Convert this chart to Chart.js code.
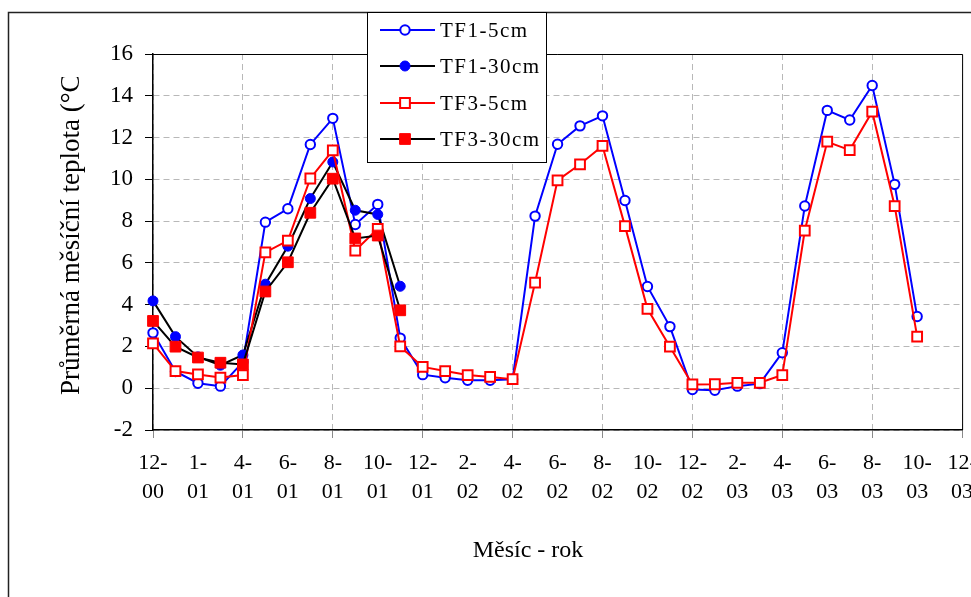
<!DOCTYPE html>
<html>
<head>
<meta charset="utf-8">
<script src="https://cdn.jsdelivr.net/npm/chart.js@4"></script>
<style>
  html, body { margin: 0; padding: 0; background: #fff; }
  canvas { display: block; }
</style>
</head>
<body>
<canvas id="c" width="971" height="597"></canvas>
<script>
// Months from 12-00 to 12-03
const months = ['12-00','1-01','2-01','3-01','4-01','5-01','6-01','7-01','8-01','9-01','10-01','11-01',
  '12-01','1-02','2-02','3-02','4-02','5-02','6-02','7-02','8-02','9-02','10-02','11-02',
  '12-02','1-03','2-03','3-03','4-03','5-03','6-03','7-03','8-03','9-03','10-03','11-03','12-03'];
// Tick labels as printed on the axis (every second month)
const tickLabels = ['12-00','1-01','4-01','6-01','8-01','10-01','12-01','2-02','4-02','6-02',
  '8-02','10-02','12-02','2-03','4-03','6-03','8-03','10-03','12-03'];

const tf1_5cm = [2.65, 0.8, 0.24, 0.1, 1.25, 7.95, 8.59, 11.67, 12.92, 7.84, 8.8, 2.4,
  0.65, 0.5, 0.38, 0.38, 0.43, 8.24, 11.68, 12.56, 13.04, 8.99, 4.87, 2.95,
  -0.06, -0.1, 0.1, 0.22, 1.7, 8.72, 13.3, 12.84, 14.49, 9.76, 3.43];
const tf1_30cm = [4.18, 2.47, 1.5, 1.1, 1.59, 4.98, 6.8, 9.08, 10.83, 8.52, 8.32, 4.88];
const tf3_5cm = [2.15, 0.82, 0.66, 0.51, 0.63, 6.5, 7.07, 10.04, 11.39, 6.59, 7.63, 2.0,
  1.02, 0.82, 0.63, 0.54, 0.43, 5.06, 9.95, 10.72, 11.6, 7.76, 3.8, 1.99,
  0.18, 0.19, 0.26, 0.26, 0.63, 7.55, 11.8, 11.4, 13.24, 8.72, 2.47];
const tf3_30cm = [3.22, 1.99, 1.47, 1.22, 1.14, 4.63, 6.03, 8.4, 10.03, 7.17, 7.31, 3.73];

const yTitle = 'Průměrná měsíční teplota (°C)';
const xTitle = 'Měsíc - rok';

const BLUE = '#0000ff', RED = '#ff0000', BLACK = '#000000';
const SERIF = '"Liberation Serif", "Times New Roman", serif';

const framePlugin = {
  id: 'frame',
  beforeDraw(chart) {
    const ctx = chart.ctx;
    ctx.save();
    ctx.fillStyle = '#fff';
    ctx.fillRect(0, 0, chart.width, chart.height);
    ctx.strokeStyle = '#222';
    ctx.lineWidth = 1.5;
    ctx.beginPath();
    ctx.moveTo(8.5, chart.height + 2);
    ctx.lineTo(8.5, 12.5);
    ctx.lineTo(chart.width + 2, 12.5);
    ctx.stroke();
    ctx.restore();
  },
  afterDatasetsDraw(chart) {
    const ctx = chart.ctx, a = chart.chartArea;
    ctx.save();
    ctx.strokeStyle = '#000';
    ctx.lineWidth = 1;
    ctx.beginPath();
    ctx.moveTo(a.left, a.top + 0.5);
    ctx.lineTo(a.right + 0.5, a.top + 0.5);
    ctx.lineTo(a.right + 0.5, a.bottom);
    ctx.stroke();
    ctx.restore();
  },
  afterDraw(chart) {
    const ctx = chart.ctx;
    ctx.save();
    // Y axis title (clipped at the top like the original)
    ctx.beginPath();
    ctx.rect(0, 77, chart.width, chart.height);
    ctx.clip();
    ctx.fillStyle = '#000';
    ctx.font = '27px ' + SERIF;
    ctx.translate(79, 395);
    ctx.rotate(-Math.PI / 2);
    ctx.textAlign = 'left';
    ctx.textBaseline = 'alphabetic';
    ctx.fillText(yTitle, 0, 0);
    ctx.restore();

    // X axis title
    ctx.save();
    ctx.fillStyle = '#000';
    ctx.font = '24px ' + SERIF;
    ctx.textAlign = 'center';
    ctx.textBaseline = 'alphabetic';
    ctx.fillText(xTitle, 528, 557);
    ctx.restore();

    // Legend
    ctx.save();
    const bx = 367.5, by = 12.5, bw = 179, bh = 150;
    ctx.fillStyle = '#fff';
    ctx.fillRect(bx, by, bw, bh);
    ctx.strokeStyle = '#000';
    ctx.lineWidth = 1;
    ctx.strokeRect(bx, by, bw, bh);
    const rows = [30, 66, 103, 139];
    chart.data.datasets.forEach((ds, i) => {
      const y = rows[i];
      ctx.strokeStyle = ds.borderColor;
      ctx.lineWidth = 2;
      ctx.beginPath();
      ctx.moveTo(380, y);
      ctx.lineTo(435, y);
      ctx.stroke();
      ctx.fillStyle = ds.pointBackgroundColor;
      ctx.strokeStyle = ds.pointBorderColor;
      ctx.lineWidth = ds.pointBorderWidth;
      ctx.beginPath();
      if (ds.pointStyle === 'rect') {
        const s = ds.pointRadius * Math.SQRT1_2;
        ctx.rect(405 - s, y - s, 2 * s, 2 * s);
      } else {
        ctx.arc(405, y, ds.pointRadius, 0, Math.PI * 2);
      }
      ctx.fill();
      ctx.stroke();
      ctx.fillStyle = '#000';
      ctx.font = '21px ' + SERIF;
      if ('letterSpacing' in ctx) ctx.letterSpacing = '1.5px';
      ctx.textAlign = 'left';
      ctx.textBaseline = 'middle';
      ctx.fillText(ds.label, 440, y + 1);
    });
    ctx.restore();
  }
};

new Chart(document.getElementById('c'), {
  type: 'line',
  data: {
    labels: months,
    datasets: [
      { label: 'TF1-5cm', data: tf1_5cm, borderColor: BLUE, borderWidth: 2,
        pointStyle: 'circle', pointRadius: 4.7, pointBorderWidth: 2,
        pointBackgroundColor: '#fff', pointBorderColor: BLUE, order: 4 },
      { label: 'TF1-30cm', data: tf1_30cm, borderColor: BLACK, borderWidth: 2,
        pointStyle: 'circle', pointRadius: 5, pointBorderWidth: 1,
        pointBackgroundColor: BLUE, pointBorderColor: BLUE, order: 3 },
      { label: 'TF3-5cm', data: tf3_5cm, borderColor: RED, borderWidth: 2,
        pointStyle: 'rect', pointRadius: 6.9, pointBorderWidth: 2,
        pointBackgroundColor: '#fff', pointBorderColor: RED, order: 2 },
      { label: 'TF3-30cm', data: tf3_30cm, borderColor: BLACK, borderWidth: 2,
        pointStyle: 'rect', pointRadius: 7.6, pointBorderWidth: 1,
        pointBackgroundColor: RED, pointBorderColor: RED, order: 1 }
    ]
  },
  options: {
    responsive: false,
    animation: false,
    devicePixelRatio: 1,
    layout: { padding: { left: 0, right: 5, top: 54, bottom: 0 } },
    elements: { line: { tension: 0 } },
    plugins: { legend: { display: false }, title: { display: false }, tooltip: { enabled: false } },
    events: [],
    scales: {
      x: {
        type: 'category',
        offset: false,
        grid: {
          color: (c) => (c.index % 2 === 0 ? '#b8b8b8' : 'rgba(0,0,0,0)'),
          lineWidth: 1,
          borderDash: [6, 4],
          tickColor: (c) => (c.index % 2 === 0 ? '#8a8a8a' : 'rgba(0,0,0,0)'),
          tickLength: 8,
          tickBorderDash: []
        },
        border: { display: true, color: '#000', width: 1.5, dash: [6, 4] },
        ticks: {
          autoSkip: false,
          maxRotation: 0,
          minRotation: 0,
          padding: 10.5,
          color: '#000',
          font: { family: SERIF, size: 22, lineHeight: 1.32 },
          callback: (v, i) => {
            if (i % 2 !== 0) return null;
            const t = tickLabels[i / 2];
            const k = t.indexOf('-');
            return [t.slice(0, k + 1), t.slice(k + 1)];
          }
        },
        afterFit: (s) => { s.height = 167; s.paddingLeft = 0; s.paddingRight = 0; }
      },
      y: {
        min: -2,
        max: 16,
        grid: {
          color: '#b8b8b8',
          lineWidth: 1,
          borderDash: [6, 4],
          tickColor: '#000',
          tickLength: 8,
          tickBorderDash: []
        },
        border: { display: true, color: '#000', width: 1.5, dash: [6, 4] },
        ticks: {
          stepSize: 2,
          padding: 12,
          color: '#000',
          font: { family: SERIF, size: 23 }
        },
        afterFit: (s) => { s.width = 153; }
      }
    }
  },
  plugins: [framePlugin]
});
</script>
</body>
</html>
